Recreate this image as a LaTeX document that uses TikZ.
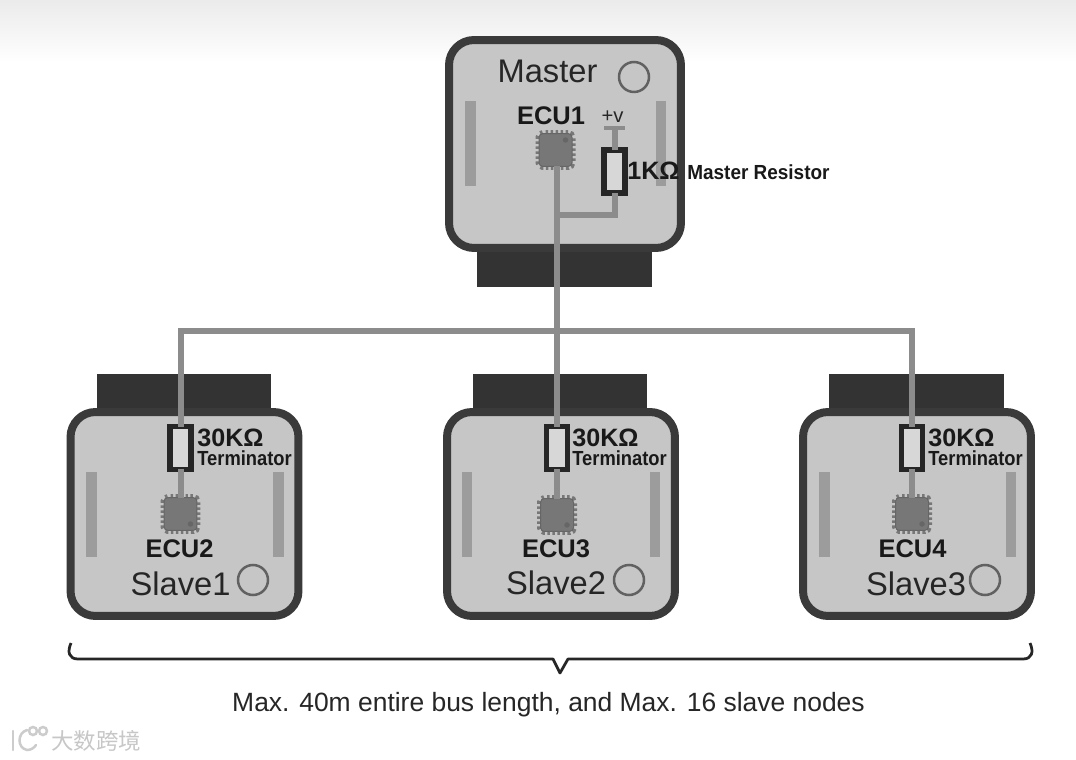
\documentclass[tikz,border=0pt]{standalone}
\usepackage{fontspec}
\setmainfont{Liberation Sans}
\newfontfamily\cjk{Noto Sans CJK SC}
\usetikzlibrary{arrows.meta,positioning}
\definecolor{boxfill}{HTML}{C6C6C6}
\definecolor{boxedge}{HTML}{3A3A3A}
\definecolor{tabfill}{HTML}{333333}
\definecolor{wire}{HTML}{8C8C8C}
\definecolor{railfill}{HTML}{9C9C9C}
\definecolor{chipfill}{HTML}{777777}

\begin{document}
\begin{tikzpicture}[
  x=.02cm, y=-.02cm,
  ecubox/.style={rectangle, draw=boxedge, line width=.16cm, fill=boxfill, rounded corners=.5cm,
                 minimum width=4.56cm, minimum height=4.08cm, outer sep=0pt},
  tab/.style={rectangle, fill=tabfill, minimum width=3.5cm, minimum height=.7cm, inner sep=0pt},
  rail/.style={rectangle, fill=railfill, minimum width=.21cm, minimum height=1.7cm, inner sep=0pt},
  led/.style={circle, draw=boxedge!80, line width=.05cm, minimum size=.6cm, inner sep=0pt},
  chip/.style={rectangle, draw=black!60, line width=.02cm, fill=chipfill, rounded corners=.08cm, minimum size=.66cm,
               inner sep=0pt, outer sep=0pt,
               preaction={draw=chipfill, line width=.14cm, dash pattern=on .05cm off .05cm}},
  chipdot/.style={circle, fill=black!60, minimum size=.11cm, inner sep=0pt},
  res/.style={rectangle, draw=black!85, line width=.11cm, fill=boxfill!70!white, minimum width=.42cm, minimum height=.86cm, inner sep=0pt, outer sep=0pt},
  bus/.style={draw=wire, line width=.12cm},
  role/.style={font=\fontsize{18.6pt}{20pt}\selectfont, text=black!85, inner sep=0pt},
  ecu/.style={font=\fontsize{14.5pt}{16pt}\bfseries\selectfont, text=black!90, inner sep=0pt},
  ohm/.style={font=\fontsize{14.3pt}{16pt}\bfseries\selectfont, text=black!90, inner sep=0pt, anchor=west,
              text height=10pt, text depth=0pt},
  termtxt/.style={font=\fontsize{11.6pt}{13pt}\bfseries\selectfont, text=black!90, inner sep=0pt, anchor=west,
              text height=8.4pt, text depth=0pt},
  logo/.style={draw=black!20, line width=.05cm, line cap=round}
]
\useasboundingbox (0,0) rectangle (1076,760);
% Backdrop
\fill[white] (0,0) rectangle (1076,760);
\shade[top color=black!8, bottom color=white] (0,0) rectangle (1076,62);

% Connector tabs
\node[tab] (tabm) at (564.5,269.5) {};
\node[tab] (tab1) at (184,391) {};
\node[tab] (tab2) at (560,391) {};
\node[tab] (tab3) at (916.5,391) {};

% Boxes
\node[ecubox, minimum width=4.64cm, minimum height=4.16cm] (master) at (565,144) {};
\node[ecubox] (slave1) at (184.5,514) {};
\node[ecubox] (slave2) at (561,514) {};
\node[ecubox] (slave3) at (917,514) {};

% Rails
\node[rail] at (470.5,143.5) {};
\node[rail] at (661,143.5) {};
\node[rail] at (91.5,514.5) {};
\node[rail] at (278.5,514.5) {};
\node[rail] at (467,514.5) {};
\node[rail] at (655,514.5) {};
\node[rail] at (824.5,514.5) {};
\node[rail] at (1011,514.5) {};

% Chips
\node[chip] (ecu1) at (555.5,150) {};
\node[chip] (ecu2) at (180.5,514) {};
\node[chip] (ecu3) at (557,515) {};
\node[chip] (ecu4) at (912,514) {};
\node[chipdot] at ([xshift=-.13cm,yshift=-.13cm]ecu1.north east) {};
\node[chipdot] at ([xshift=-.13cm,yshift=.13cm]ecu2.south east) {};
\node[chipdot] at ([xshift=-.13cm,yshift=.13cm]ecu3.south east) {};
\node[chipdot] at ([xshift=-.13cm,yshift=.13cm]ecu4.south east) {};

% Resistors
\node[res] (rm) at (614.5,171.5) {};
\node[res] (r1) at (180.5,448) {};
\node[res] (r2) at (557,448) {};
\node[res] (r3) at (912,448) {};

% Bus
\coordinate (tee) at (557,215);
\coordinate (trunk) at (557,331);
\coordinate (vplus) at (614.5,128);
\draw[bus] (ecu1.south -| trunk) -- (trunk) -- (r2.north);
\draw[bus] (tee) -| (rm.south);
\draw[bus] (rm.north) -- (vplus);
\draw[bus] (r1.north) |- (trunk) -| (r3.north);
\draw[bus] (r1.south) -- (ecu2.north);
\draw[bus] (r2.south) -- (ecu3.north);
\draw[bus] (r3.south) -- (ecu4.north);
\node[rectangle, fill=wire, minimum width=.42cm, minimum height=.09cm, inner sep=0pt] (vbar) at (vplus) {};

% Lamps
\node[led] at (634,77) {};
\node[led] at (253,580) {};
\node[led] at (629,580) {};
\node[led] at (985,580) {};

% Labels
\node[role] at (547.5,71) {Master};
\node[role] at (180.5,584) {Slave1};
\node[role] at (556,583) {Slave2};
\node[role] at (916,584) {Slave3};
\node[ecu] at (551,116) {ECU1};
\node[ecu] at (179.5,549) {ECU2};
\node[ecu] at (556,549) {ECU3};
\node[ecu] at (912.5,549) {ECU4};
\node[font=\fontsize{11.5pt}{13pt}\selectfont, inner sep=0pt, text=black!85] at (612.5,117) {+v};
\node[ohm] at (627,171) {1KΩ};
\node[termtxt] at (687,172) {\scalebox{.93}[1]{Master Resistor}};
\node[ohm] at (197,438) {30KΩ};
\node[ohm] at (572,438) {30KΩ};
\node[ohm] at (928,438) {30KΩ};
\node[termtxt] at (197,458.5) {\scalebox{.9}[1]{Terminator}};
\node[termtxt] at (572,458.5) {\scalebox{.9}[1]{Terminator}};
\node[termtxt] at (928,458.5) {\scalebox{.9}[1]{Terminator}};

% Brace
\draw[line width=.055cm, black!85, line join=round]
  (71,643) .. controls (67,652) and (69,659) .. (78,659) -- (553,659) -- (560,673) -- (568,659)
  -- (1023,659) .. controls (1032,659) and (1034,652) .. (1030,643);
\node[font=\fontsize{15.05pt}{17pt}\selectfont, text=black!85, inner sep=0pt] at (548.5,705) {Max. 40m entire bus length, and Max. 16 slave nodes};

% Watermark
\draw[logo] (13,731) -- (13,750);
\draw[logo] (27,730) .. controls (17,733) and (17,748) .. (27,750) .. controls (31,750) and (34,748) .. (36,745);
\draw[logo] (33,731) circle (.08cm);
\draw[logo] (43,731) circle (.08cm);
\node[font=\fontsize{12.8pt}{14pt}\cjk, text=black!22, inner sep=0pt] at (96,741) {大数跨境};
\end{tikzpicture}
\end{document}
